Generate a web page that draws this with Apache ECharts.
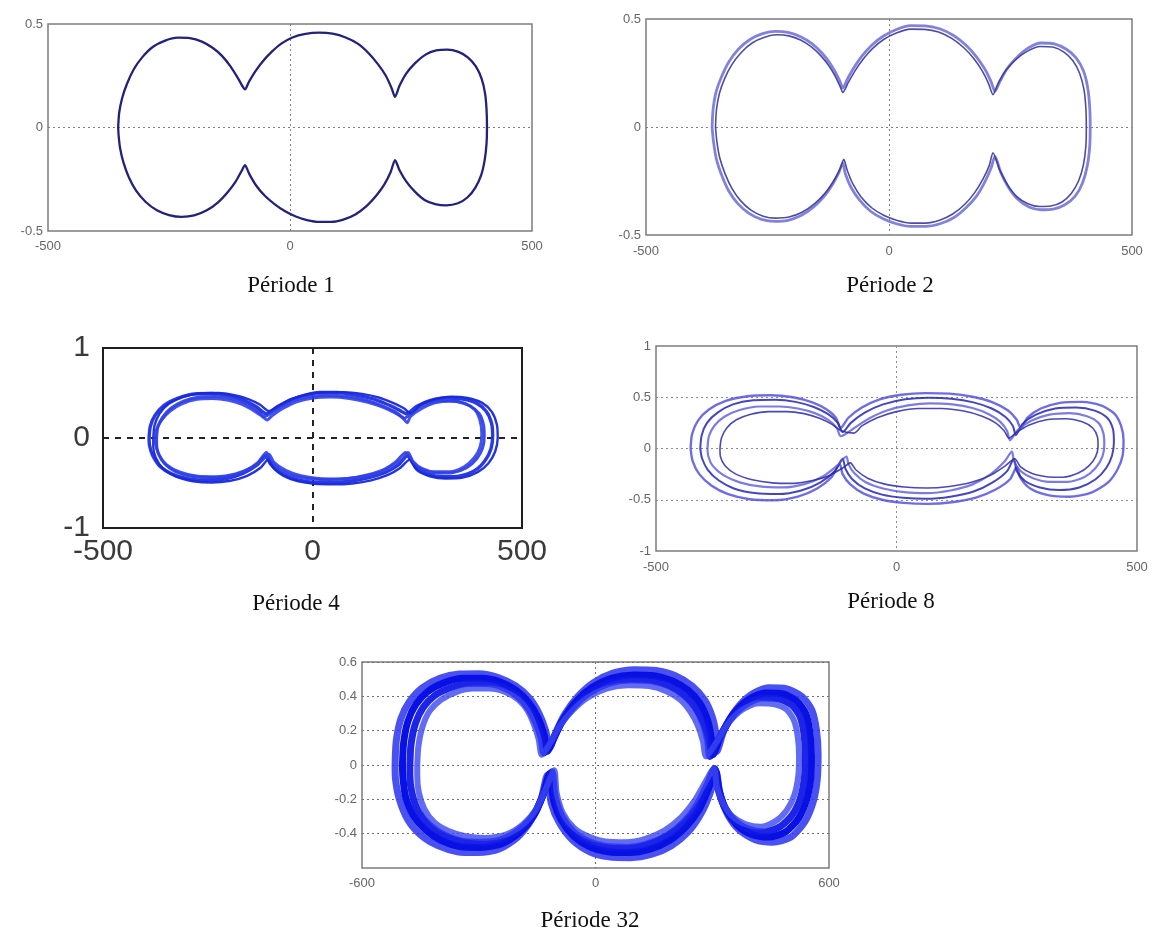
<!DOCTYPE html>
<html>
<head>
<meta charset="utf-8">
<script src="https://cdn.jsdelivr.net/npm/echarts@6/dist/echarts.min.js"></script>
<style>
  html, body { margin: 0; padding: 0; background: #fff; }
  #chart { width: 1160px; height: 934px; }
</style>
</head>
<body>
<div id="chart"></div>
<script>
// Panel captions
const titles = ['Période 1', 'Période 2', 'Période 4', 'Période 8', 'Période 32'];

// Axis ticks for each panel (x and y)
const xTicks = [[-500, 0, 500], [-500, 0, 500], [-500, 0, 500], [-500, 0, 500], [-600, 0, 600]];
const yTicks = [[-0.5, 0, 0.5], [-0.5, 0, 0.5], [-1, 0, 1], [-1, -0.5, 0, 0.5, 1], [-0.6, -0.4, -0.2, 0, 0.2, 0.4, 0.6]];
const yTickLabels = [
  ['-0.5', '0', '0.5'],
  ['-0.5', '0', '0.5'],
  ['-1', '0', '1'],
  ['-1', '-0.5', '0', '0.5', '1'],
  ['', '-0.4', '-0.2', '0', '0.2', '0.4', '0.6']
];

// Phase trajectories (position, velocity)
const period1 = [
  [-355,0],[-353,0.07],[-347,0.14],[-337,0.21],[-323,0.28],[-305,0.34],[-283,0.39],[-258,0.42],[-232,0.434],[-207,0.432],[-182,0.415],[-160,0.385],[-140,0.345],[-123,0.295],[-108,0.24],[-97,0.195],[-93,0.184],
  [-85,0.22],[-72,0.27],[-56,0.32],[-38,0.365],[-18,0.405],[5,0.435],[32,0.452],[60,0.458],[88,0.453],[115,0.435],[140,0.405],[162,0.36],[182,0.305],[198,0.25],[210,0.19],[217,0.148],
  [226,0.2],[240,0.26],[258,0.31],[280,0.352],[302,0.372],[325,0.376],[348,0.365],[368,0.338],[384,0.295],[396,0.235],[403,0.165],[406,0.09],[407,0],
  [406,-0.08],[402,-0.16],[395,-0.23],[383,-0.29],[367,-0.337],[347,-0.366],[323,-0.376],[300,-0.37],[278,-0.35],[258,-0.31],[240,-0.26],[226,-0.205],[217,-0.158],
  [208,-0.215],[195,-0.275],[178,-0.33],[158,-0.38],[135,-0.42],[110,-0.445],[85,-0.456],[60,-0.456],[35,-0.447],[12,-0.43],[-10,-0.405],[-32,-0.37],[-52,-0.33],[-70,-0.28],[-84,-0.225],[-93,-0.182],
  [-100,-0.21],[-112,-0.26],[-128,-0.31],[-148,-0.36],[-172,-0.4],[-198,-0.425],[-224,-0.432],[-250,-0.423],[-275,-0.4],[-298,-0.36],[-318,-0.305],[-333,-0.24],[-344,-0.17],[-351,-0.1],[-354,-0.04],[-355,0]
];

const period2a = [
  [-364,0],[-362,0.08],[-356,0.16],[-345,0.23],[-330,0.3],[-310,0.36],[-286,0.405],[-260,0.432],[-234,0.443],[-208,0.438],[-182,0.418],[-158,0.385],[-137,0.34],[-120,0.29],[-106,0.235],[-97,0.19],[-95,0.18],
  [-86,0.22],[-72,0.275],[-55,0.33],[-35,0.38],[-12,0.42],[14,0.45],[44,0.469],[74,0.468],[104,0.455],[132,0.425],[158,0.38],[180,0.325],[198,0.265],[210,0.21],[218,0.165],
  [228,0.21],[243,0.27],[262,0.32],[286,0.365],[313,0.389],[340,0.385],[365,0.36],[385,0.32],[400,0.26],[409,0.18],[413,0.09],[414,0],
  [413,-0.09],[408,-0.18],[398,-0.26],[383,-0.32],[362,-0.36],[338,-0.38],[313,-0.383],[288,-0.37],[265,-0.335],[246,-0.28],[230,-0.21],[218,-0.136],
  [210,-0.19],[197,-0.255],[180,-0.32],[158,-0.375],[133,-0.42],[105,-0.448],[75,-0.46],[45,-0.46],[15,-0.448],[-12,-0.425],[-38,-0.39],[-60,-0.34],[-78,-0.28],[-90,-0.215],[-95,-0.167],
  [-103,-0.21],[-116,-0.265],[-133,-0.32],[-155,-0.37],[-181,-0.41],[-208,-0.432],[-235,-0.437],[-262,-0.428],[-288,-0.4],[-311,-0.355],[-330,-0.295],[-344,-0.225],[-355,-0.15],[-361,-0.07],[-364,0]
];

const period2b = [
  [-357,0],[-355,0.08],[-349,0.155],[-338,0.225],[-323,0.29],[-304,0.345],[-281,0.39],[-256,0.416],[-231,0.427],[-206,0.422],[-182,0.403],[-159,0.37],[-139,0.327],[-122,0.278],[-109,0.228],[-100,0.185],[-95,0.16],
  [-84,0.205],[-70,0.26],[-53,0.315],[-33,0.365],[-11,0.405],[15,0.435],[44,0.453],[73,0.452],[102,0.44],[129,0.41],[154,0.367],[176,0.313],[193,0.255],[205,0.2],[214,0.15],
  [224,0.2],[239,0.258],[259,0.308],[284,0.35],[311,0.373],[337,0.37],[360,0.347],[378,0.308],[392,0.25],[401,0.175],[405,0.09],[406,0],
  [405,-0.09],[400,-0.175],[390,-0.25],[375,-0.308],[356,-0.347],[333,-0.366],[310,-0.368],[286,-0.355],[263,-0.322],[244,-0.268],[228,-0.2],[214,-0.12],
  [206,-0.18],[193,-0.243],[176,-0.305],[155,-0.36],[131,-0.403],[104,-0.432],[75,-0.445],[46,-0.445],[17,-0.433],[-10,-0.41],[-35,-0.375],[-57,-0.325],[-74,-0.265],[-86,-0.2],[-93,-0.15],
  [-101,-0.195],[-114,-0.25],[-131,-0.305],[-153,-0.355],[-179,-0.395],[-206,-0.417],[-233,-0.422],[-259,-0.413],[-284,-0.385],[-305,-0.342],[-323,-0.285],[-337,-0.218],[-348,-0.145],[-354,-0.07],[-357,0]
];

const period4a = [
  [-390,0],[-387,0.13],[-376,0.25],[-355,0.36],[-322,0.44],[-282,0.49],[-240,0.495],[-200,0.47],[-165,0.42],[-135,0.35],[-110,0.27],
  [-88,0.33],[-58,0.41],[-22,0.47],[18,0.505],[60,0.505],[100,0.48],[140,0.44],[175,0.38],[203,0.32],[224,0.27],
  [248,0.35],[280,0.415],[318,0.445],[355,0.435],[390,0.39],[414,0.3],[427,0.17],[430,0.03],[426,-0.12],[412,-0.25],[388,-0.36],[352,-0.42],[314,-0.43],[277,-0.405],[247,-0.33],[226,-0.2],
  [205,-0.3],[175,-0.38],[135,-0.44],[90,-0.48],[45,-0.495],[0,-0.49],[-40,-0.46],[-75,-0.39],[-100,-0.29],[-112,-0.2],
  [-132,-0.3],[-165,-0.39],[-205,-0.45],[-250,-0.47],[-295,-0.455],[-335,-0.4],[-365,-0.31],[-382,-0.19],[-389,-0.08],[-390,0]
];

const period4b = [
  [-372,0],[-369,0.12],[-358,0.23],[-338,0.33],[-308,0.41],[-270,0.455],[-232,0.46],[-196,0.44],[-163,0.39],[-136,0.32],[-114,0.24],
  [-92,0.3],[-62,0.38],[-28,0.44],[10,0.47],[50,0.475],[92,0.455],[132,0.415],[168,0.355],[198,0.29],[220,0.22],
  [242,0.31],[272,0.38],[308,0.415],[344,0.405],[376,0.355],[398,0.27],[408,0.15],[410,0.02],[406,-0.11],[392,-0.23],[368,-0.33],[334,-0.385],[298,-0.39],[266,-0.36],[240,-0.28],[222,-0.16],
  [200,-0.26],[170,-0.35],[130,-0.41],[86,-0.45],[40,-0.46],[-2,-0.455],[-42,-0.425],[-76,-0.36],[-100,-0.26],[-110,-0.16],
  [-130,-0.27],[-162,-0.37],[-202,-0.425],[-246,-0.44],[-290,-0.425],[-328,-0.37],[-354,-0.28],[-368,-0.17],[-372,-0.07],[-372,0]
];

const period4c = [
  [-380,0],[-377,0.14],[-365,0.27],[-343,0.38],[-310,0.455],[-268,0.495],[-225,0.5],[-186,0.475],[-152,0.43],[-125,0.37],[-104,0.3],
  [-82,0.36],[-50,0.435],[-12,0.485],[30,0.51],[75,0.51],[118,0.49],[158,0.45],[192,0.39],[218,0.33],[236,0.27],
  [258,0.37],[290,0.43],[330,0.46],[370,0.445],[405,0.39],[428,0.29],[440,0.15],[442,0],[436,-0.15],[420,-0.28],[394,-0.38],[358,-0.44],[318,-0.45],[280,-0.425],[250,-0.36],[232,-0.24],
  [210,-0.33],[180,-0.41],[140,-0.47],[95,-0.505],[50,-0.515],[5,-0.51],[-36,-0.48],[-70,-0.42],[-94,-0.33],[-106,-0.24],
  [-124,-0.33],[-156,-0.42],[-196,-0.475],[-240,-0.495],[-285,-0.48],[-326,-0.43],[-357,-0.34],[-374,-0.22],[-380,-0.1],[-380,0]
];

const period4d = [
  [-376,0],[-372,0.1],[-360,0.2],[-340,0.3],[-312,0.38],[-276,0.43],[-238,0.44],[-200,0.42],[-168,0.375],[-142,0.31],[-120,0.24],[-108,0.2],
  [-96,0.25],[-70,0.33],[-36,0.405],[2,0.445],[44,0.455],[88,0.44],[130,0.4],[166,0.345],[196,0.28],[216,0.22],[226,0.17],
  [234,0.24],[258,0.32],[292,0.39],[330,0.41],[364,0.385],[388,0.31],[400,0.19],[404,0.05],[400,-0.1],[386,-0.22],[362,-0.32],[328,-0.375],[292,-0.375],[262,-0.34],[240,-0.26],[228,-0.16],
  [214,-0.24],[188,-0.32],[150,-0.4],[106,-0.44],[60,-0.455],[14,-0.45],[-28,-0.42],[-64,-0.36],[-92,-0.27],[-104,-0.18],
  [-118,-0.24],[-146,-0.33],[-184,-0.4],[-228,-0.43],[-274,-0.425],[-316,-0.38],[-348,-0.3],[-366,-0.19],[-374,-0.08],[-376,0]
];

const period8a = [
  [-428,0],[-425,0.14],[-413,0.27],[-390,0.38],[-355,0.465],[-310,0.51],[-262,0.52],[-215,0.5],[-175,0.45],[-145,0.38],[-126,0.3],[-116,0.2],
  [-100,0.3],[-72,0.4],[-35,0.48],[10,0.525],[60,0.54],[110,0.535],[158,0.505],[200,0.45],[232,0.37],[250,0.28],[258,0.2],
  [272,0.3],[300,0.39],[340,0.445],[385,0.455],[425,0.42],[453,0.34],[467,0.22],[472,0.08],[470,-0.07],[460,-0.2],[440,-0.33],[405,-0.43],[360,-0.47],[315,-0.455],[278,-0.39],[258,-0.29],[250,-0.18],
  [236,-0.3],[206,-0.4],[165,-0.48],[115,-0.525],[65,-0.54],[15,-0.53],[-30,-0.5],[-68,-0.44],[-96,-0.35],[-112,-0.25],[-118,-0.15],
  [-135,-0.28],[-165,-0.39],[-205,-0.47],[-255,-0.505],[-305,-0.495],[-350,-0.445],[-385,-0.36],[-410,-0.25],[-424,-0.12],[-428,0]
];

const period8b = [
  [-408,0],[-405,0.13],[-394,0.25],[-372,0.35],[-340,0.43],[-298,0.47],[-252,0.475],[-210,0.455],[-172,0.405],[-142,0.335],[-122,0.25],[-112,0.16],
  [-95,0.25],[-66,0.35],[-28,0.43],[18,0.48],[66,0.495],[114,0.485],[160,0.45],[198,0.39],[226,0.31],[242,0.22],[248,0.13],
  [262,0.24],[290,0.33],[330,0.39],[374,0.4],[412,0.37],[438,0.3],[450,0.19],[452,0.06],[448,-0.07],[436,-0.19],[414,-0.3],[380,-0.38],[338,-0.405],[298,-0.38],[268,-0.32],[250,-0.22],[244,-0.1],
  [230,-0.22],[200,-0.33],[160,-0.42],[112,-0.47],[62,-0.49],[14,-0.48],[-30,-0.45],[-66,-0.39],[-92,-0.3],[-106,-0.2],[-112,-0.1],
  [-128,-0.22],[-158,-0.33],[-198,-0.41],[-246,-0.445],[-295,-0.435],[-338,-0.39],[-370,-0.31],[-392,-0.21],[-404,-0.1],[-408,0]
];

const period8c = [
  [-393,0],[-390,0.12],[-379,0.22],[-358,0.31],[-326,0.375],[-286,0.41],[-244,0.41],[-205,0.39],[-170,0.345],[-142,0.28],[-124,0.2],[-116,0.12],
  [-88,0.2],[-58,0.29],[-20,0.37],[24,0.42],[70,0.44],[116,0.43],[158,0.395],[192,0.335],[216,0.26],[230,0.17],[236,0.08],
  [252,0.18],[280,0.27],[318,0.33],[360,0.345],[396,0.315],[420,0.25],[430,0.15],[432,0.04],[428,-0.08],[414,-0.19],[390,-0.28],[356,-0.325],[318,-0.325],[284,-0.29],[258,-0.22],[244,-0.12],[240,-0.03],
  [224,-0.13],[196,-0.25],[158,-0.35],[112,-0.41],[64,-0.435],[16,-0.425],[-28,-0.39],[-64,-0.33],[-88,-0.24],[-100,-0.15],[-104,-0.08],
  [-124,-0.17],[-152,-0.27],[-190,-0.345],[-236,-0.38],[-284,-0.37],[-326,-0.33],[-360,-0.26],[-382,-0.17],[-391,-0.08],[-393,0]
];

const period8d = [
  [-367,0],[-364,0.1],[-353,0.2],[-333,0.28],[-303,0.335],[-266,0.36],[-228,0.36],[-192,0.34],[-160,0.295],[-134,0.235],[-114,0.17],[-88,0.15],
  [-72,0.22],[-40,0.3],[0,0.36],[46,0.39],[94,0.39],[140,0.365],[178,0.315],[206,0.25],[224,0.17],[234,0.1],
  [250,0.16],[276,0.23],[312,0.28],[352,0.29],[386,0.26],[408,0.2],[418,0.11],[419,0.02],[414,-0.08],[400,-0.17],[378,-0.24],[346,-0.28],[312,-0.275],[282,-0.245],[258,-0.18],[246,-0.1],
  [226,-0.17],[196,-0.26],[156,-0.33],[110,-0.37],[62,-0.385],[16,-0.375],[-26,-0.345],[-60,-0.29],[-84,-0.21],[-96,-0.14],
  [-112,-0.19],[-138,-0.26],[-172,-0.31],[-214,-0.34],[-258,-0.335],[-300,-0.305],[-334,-0.25],[-356,-0.17],[-366,-0.08],[-367,0]
];

const period32a = [
  [-515,0],[-512,0.14],[-500,0.27],[-478,0.37],[-445,0.45],[-400,0.505],[-350,0.53],[-300,0.532],[-250,0.51],[-205,0.46],[-170,0.39],[-145,0.3],[-128,0.2],[-118,0.1],
  [-100,0.2],[-78,0.3],[-45,0.4],[-5,0.48],[45,0.535],[100,0.555],[155,0.55],[205,0.52],[248,0.46],[280,0.38],[300,0.28],[310,0.17],[312,0.08],
  [330,0.2],[360,0.32],[400,0.41],[445,0.45],[490,0.445],[530,0.4],[556,0.32],[568,0.2],[572,0.06],[570,-0.08],[560,-0.21],[538,-0.33],[502,-0.42],[455,-0.45],[410,-0.435],[370,-0.38],[340,-0.29],[320,-0.17],[310,-0.04],
  [295,-0.16],[272,-0.28],[238,-0.39],[195,-0.47],[145,-0.52],[90,-0.54],[35,-0.535],[-15,-0.505],[-58,-0.44],[-92,-0.34],[-114,-0.22],[-124,-0.06],
  [-140,-0.2],[-165,-0.32],[-200,-0.42],[-248,-0.49],[-300,-0.51],[-355,-0.505],[-405,-0.47],[-448,-0.41],[-482,-0.32],[-504,-0.2],[-514,-0.08],[-515,0]
];

const period32b = [
  [-496,0],[-493,0.13],[-482,0.255],[-461,0.355],[-430,0.43],[-388,0.48],[-340,0.505],[-292,0.505],[-246,0.485],[-204,0.435],[-172,0.365],[-148,0.275],[-132,0.175],[-124,0.08],
  [-104,0.17],[-82,0.27],[-50,0.37],[-10,0.45],[40,0.505],[96,0.525],[150,0.52],[198,0.49],[238,0.435],[268,0.36],[288,0.26],[298,0.15],[302,0.06],
  [322,0.17],[352,0.29],[392,0.38],[436,0.42],[480,0.415],[516,0.375],[540,0.3],[551,0.19],[555,0.05],[553,-0.08],[543,-0.2],[522,-0.31],[488,-0.39],[444,-0.42],[402,-0.405],[364,-0.35],[336,-0.265],[318,-0.15],[308,-0.03],
  [290,-0.14],[266,-0.26],[232,-0.36],[190,-0.44],[140,-0.49],[86,-0.51],[32,-0.505],[-16,-0.475],[-56,-0.415],[-88,-0.32],[-108,-0.2],[-118,-0.05],
  [-136,-0.18],[-160,-0.3],[-196,-0.395],[-242,-0.46],[-294,-0.48],[-348,-0.475],[-396,-0.44],[-436,-0.38],[-468,-0.295],[-488,-0.185],[-495,-0.07],[-496,0]
];

const period32c = [
  [-477,0],[-474,0.12],[-463,0.24],[-443,0.335],[-413,0.405],[-373,0.45],[-328,0.475],[-283,0.475],[-240,0.455],[-202,0.405],[-174,0.335],[-154,0.25],[-140,0.16],[-132,0.07],
  [-110,0.15],[-88,0.245],[-56,0.34],[-16,0.42],[34,0.475],[90,0.495],[144,0.49],[190,0.46],[228,0.405],[256,0.335],[276,0.245],[288,0.145],[294,0.05],
  [316,0.15],[346,0.265],[384,0.35],[428,0.39],[470,0.385],[504,0.35],[526,0.28],[536,0.175],[539,0.05],[537,-0.07],[527,-0.19],[506,-0.29],[474,-0.36],[434,-0.39],[394,-0.375],[358,-0.325],[332,-0.245],[315,-0.14],[306,-0.02],
  [286,-0.12],[260,-0.235],[226,-0.335],[184,-0.41],[134,-0.46],[82,-0.48],[28,-0.475],[-18,-0.445],[-56,-0.39],[-86,-0.3],[-104,-0.18],[-112,-0.04],
  [-132,-0.16],[-156,-0.28],[-192,-0.37],[-236,-0.43],[-288,-0.45],[-340,-0.445],[-386,-0.41],[-424,-0.355],[-454,-0.275],[-471,-0.17],[-477,-0.06],[-477,0]
];

const period32d = [
  [-458,0],[-455,0.11],[-445,0.22],[-426,0.315],[-397,0.38],[-358,0.425],[-314,0.445],[-272,0.445],[-232,0.425],[-198,0.38],[-174,0.315],[-158,0.235],[-146,0.15],[-138,0.06],
  [-116,0.13],[-94,0.22],[-62,0.31],[-22,0.39],[28,0.445],[84,0.465],[138,0.46],[182,0.43],[218,0.38],[244,0.31],[263,0.23],[276,0.14],[284,0.05],
  [310,0.13],[340,0.24],[376,0.32],[418,0.36],[458,0.355],[490,0.325],[510,0.26],[520,0.16],[523,0.05],[521,-0.065],[511,-0.175],[491,-0.265],[461,-0.33],[424,-0.36],[386,-0.345],[352,-0.3],[328,-0.225],[312,-0.13],[304,-0.02],
  [282,-0.1],[254,-0.21],[220,-0.305],[178,-0.38],[128,-0.43],[78,-0.45],[24,-0.445],[-20,-0.415],[-56,-0.365],[-84,-0.28],[-100,-0.16],[-106,-0.03],
  [-128,-0.14],[-152,-0.255],[-186,-0.345],[-230,-0.405],[-282,-0.425],[-334,-0.415],[-378,-0.385],[-414,-0.335],[-440,-0.255],[-454,-0.16],[-458,-0.06],[-458,0]
];

// Which trajectories go in which panel
const panelCurves = [
  [period1],
  [period2a, period2b],
  [period4a, period4b, period4c, period4d],
  [period8a, period8b, period8c, period8d],
  [period32a, period32b, period32c, period32d]
];

// ---- layout and styling ----
const layout = [
  { grid: { left: 48, top: 24, width: 484, height: 207 }, title: [291, 286] },
  { grid: { left: 646, top: 19, width: 486, height: 216 }, title: [890, 286] },
  { grid: { left: 103, top: 348, width: 419, height: 180 }, title: [296, 604] },
  { grid: { left: 656, top: 346, width: 481, height: 205 }, title: [891, 602] },
  { grid: { left: 362, top: 662, width: 467, height: 206 }, title: [590, 921] }
];

const smallLabel = { fontSize: 13, color: '#666', fontFamily: 'Liberation Sans, Arial, sans-serif' };
const bigLabel = { fontSize: 30, color: '#3a3a3a', fontFamily: 'Liberation Sans, Arial, sans-serif' };

const axisStyle = [
  { label: smallLabel, xm: 9, ym: 5, border: '#7c7c7c', bw: 1.5, grid: { color: '#808080', width: 1, type: [2, 3] } },
  { label: smallLabel, xm: 10, ym: 5, border: '#7c7c7c', bw: 1.5, grid: { color: '#808080', width: 1, type: [2, 3] } },
  { label: bigLabel, xm: 9, ym: 13, border: '#1e1e1e', bw: 2, grid: { color: '#222', width: 2, type: [6, 6] } },
  { label: smallLabel, xm: 10, ym: 5, border: '#7c7c7c', bw: 1.5, grid: { color: '#8a8a8a', width: 1, type: [2, 3] } },
  { label: smallLabel, xm: 9, ym: 5, border: '#7c7c7c', bw: 1.5, grid: { color: '#707070', width: 1, type: [2, 3] } }
];

const curveStyle = [
  [{ color: '#22227a', width: 2.3, opacity: 1 }],
  [{ color: '#7474d4', width: 2.8, opacity: 0.9 }, { color: '#38389a', width: 1.6, opacity: 0.9 }],
  [{ color: '#1f2fe0', width: 3.4, opacity: 0.95 }, { color: '#2a3ae6', width: 3, opacity: 0.9 },
   { color: '#1828d8', width: 2.4, opacity: 0.95 }, { color: '#3040e8', width: 3, opacity: 0.9 }],
  [{ color: '#4a4ad8', width: 2.4, opacity: 0.8 }, { color: '#2424b0', width: 2, opacity: 0.85 },
   { color: '#5050d6', width: 2.2, opacity: 0.75 }, { color: '#2a2aa8', width: 1.6, opacity: 0.85 }],
  [{ color: '#2a32ee', width: 7, opacity: 0.85 }, { color: '#0810e4', width: 7, opacity: 1 },
   { color: '#1018e6', width: 7, opacity: 0.95 }, { color: '#3a46f0', width: 6, opacity: 0.8 }]
];

function tickRange(t) {
  return { min: t[0], max: t[t.length - 1], interval: t[1] - t[0] };
}

const grids = [], xAxes = [], yAxes = [], series = [], graphics = [];

layout.forEach((L, i) => {
  const st = axisStyle[i];
  grids.push(Object.assign({
    show: true, borderColor: st.border, borderWidth: st.bw, backgroundColor: '#fff',
    containLabel: false
  }, L.grid));

  const xr = tickRange(xTicks[i]);
  const yr = tickRange(yTicks[i]);

  xAxes.push({
    type: 'value', gridIndex: i, min: xr.min, max: xr.max, interval: xr.interval,
    axisLine: { show: false }, axisTick: { show: false },
    axisLabel: Object.assign({ margin: st.xm, showMinLabel: true, showMaxLabel: true,
      formatter: v => String(Math.round(v)) }, st.label),
    splitLine: { show: true, showMinLine: false, showMaxLine: false, lineStyle: st.grid }
  });

  const labs = yTickLabels[i];
  const ticks = yTicks[i];
  yAxes.push({
    type: 'value', gridIndex: i, min: yr.min, max: yr.max, interval: yr.interval,
    axisLine: { show: false }, axisTick: { show: false },
    axisLabel: Object.assign({ margin: st.ym, showMinLabel: true, showMaxLabel: true,
      formatter: v => {
        let k = -1, best = 1e9;
        ticks.forEach((t, j) => { const d = Math.abs(t - v); if (d < best) { best = d; k = j; } });
        return labs[k];
      } }, st.label),
    splitLine: { show: true, showMinLine: false, showMaxLine: false, lineStyle: st.grid }
  });

  panelCurves[i].forEach((curve, j) => {
    const cs = curveStyle[i][j];
    series.push({
      type: 'line', xAxisIndex: i, yAxisIndex: i, data: curve,
      showSymbol: false, symbol: 'none', smooth: 0.25, clip: true,
      lineStyle: { color: cs.color, width: cs.width, opacity: cs.opacity, join: 'round', cap: 'round' },
      silent: true, animation: false
    });
  });

  graphics.push({
    type: 'text', x: L.title[0], y: L.title[1], silent: true,
    style: {
      text: titles[i],
      fill: '#111', font: '23px "Liberation Serif", "DejaVu Serif", serif',
      textAlign: 'center', textVerticalAlign: 'middle'
    }
  });
});

const chart = echarts.init(document.getElementById('chart'), null, { renderer: 'canvas' });
chart.setOption({
  backgroundColor: '#fff',
  animation: false,
  grid: grids,
  xAxis: xAxes,
  yAxis: yAxes,
  series: series,
  graphic: graphics
});
</script>
</body>
</html>
